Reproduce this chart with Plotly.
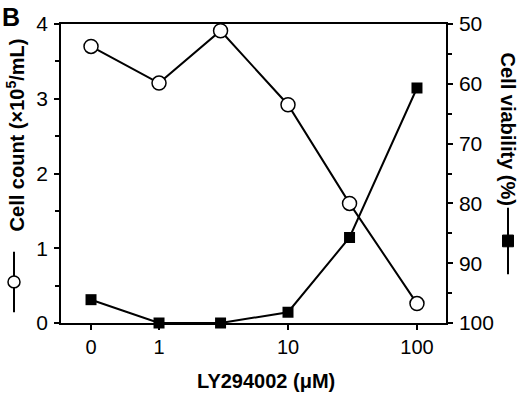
import plotly.graph_objects as go

# Data
doses = [0, 1, 3, 10, 30, 100]              # LY294002 (µM)
cell_count = [3.70, 3.21, 3.91, 2.92, 1.60, 0.26]   # ×10^5 /mL (left axis)
viability = [96.1, 100.0, 100.0, 98.2, 85.7, 60.7]  # % (right axis, reversed)
x_ticks = [0, 1, 10, 100]
x_tick_labels = ["0", "1", "10", "100"]
left_ticks = [0, 1, 2, 3, 4]
right_ticks = [50, 60, 70, 80, 90, 100]

ZERO_POS = 0.297  # where dose 0 sits on the log axis
xpos = [d if d > 0 else ZERO_POS for d in doses]
xtickpos = [d if d > 0 else ZERO_POS for d in x_ticks]

FONT = "Liberation Sans, Arial, Helvetica, sans-serif"
TFONT = FONT

fig = go.Figure()
fig.add_trace(go.Scatter(
    x=xpos, y=viability, yaxis="y2", mode="lines+markers",
    line=dict(color="black", width=2),
    marker=dict(symbol="square", size=11, color="black"),
    cliponaxis=False, showlegend=False))
fig.add_trace(go.Scatter(
    x=xpos, y=cell_count, mode="lines+markers",
    line=dict(color="black", width=2),
    marker=dict(symbol="circle", size=14, color="white",
                line=dict(color="black", width=1.5)),
    cliponaxis=False, showlegend=False))

axis_common = dict(showline=True, linecolor="black", linewidth=1.5,
                   ticks="outside", ticklen=5, tickwidth=1.5, tickcolor="black",
                   showgrid=False, zeroline=False)

# legend-style key symbols beside the axis titles (paper coordinates)
def px_x(p):
    return (p - 61) / 385.0

def px_y(p):
    return (323 - p) / 306.0

shapes = [
    # left key: line - open circle - line
    dict(type="line", xref="paper", yref="paper",
         x0=px_x(14), x1=px_x(14), y0=px_y(250), y1=px_y(312),
         line=dict(color="black", width=2)),
    dict(type="circle", xref="paper", yref="paper",
         x0=px_x(8), x1=px_x(20), y0=px_y(275), y1=px_y(287),
         fillcolor="white", line=dict(color="black", width=1.5)),
    # right key: line - filled square - line
    dict(type="line", xref="paper", yref="paper",
         x0=px_x(508), x1=px_x(508), y0=px_y(205), y1=px_y(273),
         line=dict(color="black", width=2)),
    dict(type="rect", xref="paper", yref="paper",
         x0=px_x(502.5), x1=px_x(513.5), y0=px_y(233), y1=px_y(245),
         fillcolor="black", line=dict(color="black", width=1)),
]

fig.update_layout(
    width=520, height=396,
    margin=dict(l=61, r=74, t=17, b=73),
    paper_bgcolor="white", plot_bgcolor="white",
    shapes=shapes,
    xaxis=dict(type="log", range=[-0.760, 2.225],
               tickvals=xtickpos, ticktext=x_tick_labels,
               tickfont=dict(family=FONT, size=20, color="black"),
               mirror=True, **axis_common),
    yaxis=dict(range=[0, 4], tickvals=left_ticks,
               tickfont=dict(family=FONT, size=21, color="black"),
               ticklabelstandoff=2,
               minor=dict(dtick=0.5, ticks="outside", ticklen=4,
                          tickcolor="black", tickwidth=1.5),
               **axis_common),
    yaxis2=dict(range=[100, 50], tickvals=right_ticks, overlaying="y",
                side="right",
                tickfont=dict(family=FONT, size=21, color="black"),
                ticklabelstandoff=2,
                minor=dict(dtick=5, ticks="outside", ticklen=4,
                           tickcolor="black", tickwidth=1.5),
                **axis_common),
    annotations=[
        dict(text="<b>B</b>", xref="paper", yref="paper",
             x=px_x(0), y=px_y(-7), xanchor="left", yanchor="top",
             showarrow=False, font=dict(family=FONT, size=25, color="black")),
        dict(text="<b>Cell count (×10<sup>5</sup>/mL)</b>",
             xref="paper", yref="paper", x=px_x(15), y=px_y(131),
             xanchor="center", yanchor="middle", textangle=-90,
             showarrow=False, font=dict(family=TFONT, size=20, color="black")),
        dict(text="<b>Cell viability (%)</b>",
             xref="paper", yref="paper", x=px_x(508), y=px_y(124),
             xanchor="center", yanchor="middle", textangle=90,
             showarrow=False, font=dict(family=TFONT, size=20, color="black")),
        dict(text="<b>LY294002 (μM)</b>", xref="paper", yref="paper",
             x=px_x(266), y=px_y(382), xanchor="center", yanchor="middle",
             showarrow=False,
             font=dict(family=TFONT, size=20, color="black")),
    ],
)

fig.write_html(
    "out.html",
    config={"displayModeBar": False},
    post_script="document.body.style.margin='0';"
                "document.body.style.overflow='hidden';",
)
